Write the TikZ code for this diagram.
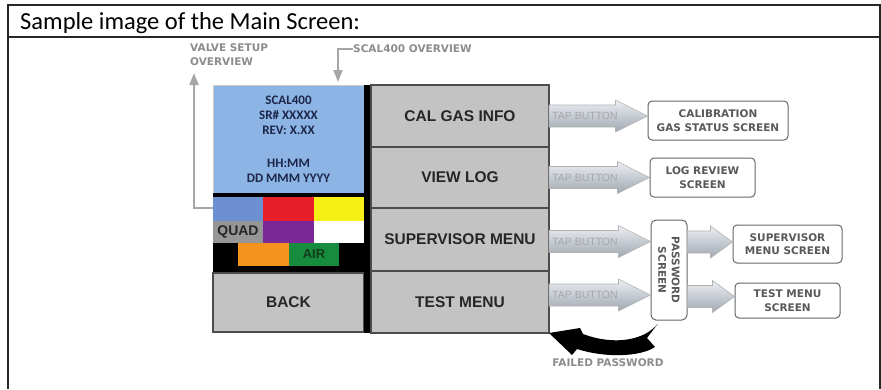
\documentclass[tikz,border=0pt]{standalone}
\usepackage{fontspec}
\setmainfont{Carlito}
\newfontfamily\keyfont{Liberation Sans}
\newfontfamily\notefont{DejaVu Sans}
\usetikzlibrary{arrows.meta,calc,positioning}

\definecolor{screenblue}{RGB}{140,180,228}
\definecolor{screentext}{RGB}{28,38,72}
\definecolor{keygray}{RGB}{195,195,195}
\definecolor{quadblue}{RGB}{108,144,210}
\definecolor{quadred}{RGB}{232,30,40}
\definecolor{quadyellow}{RGB}{246,240,22}
\definecolor{quadgray}{RGB}{150,150,150}
\definecolor{quadpurple}{RGB}{122,40,150}
\definecolor{quadorange}{RGB}{246,146,30}
\definecolor{quadgreen}{RGB}{24,140,62}
\definecolor{tapTop}{RGB}{236,239,243}
\definecolor{tapBottom}{RGB}{160,168,178}

\tikzset{
  key/.style={draw=black!70, line width=1.2pt, fill=keygray, outer sep=0pt,
    minimum width=178pt, text=black!85,
    font=\keyfont\bfseries\fontsize{15.5}{18}\selectfont},
  cellnote/.style={inner sep=0pt, outer sep=0pt,
    font=\keyfont\bfseries\fontsize{14}{16}\selectfont},
  notetext/.style={inner sep=0pt, text=black!45,
    font=\notefont\bfseries\fontsize{10.5}{14}\selectfont},
  taptext/.style={inner sep=0pt, text=black!35,
    font=\keyfont\fontsize{10.5}{12}\selectfont},
  tapshape/.style={draw=gray!60, line width=0.6pt,
    top color=tapTop, bottom color=tapBottom},
  screenbox/.style={draw=black!60, line width=1pt, fill=white,
    rounded corners=4pt, align=center, text=black!65,
    font=\notefont\bfseries\fontsize{10.5}{13.5}\selectfont},
  leader/.style={draw=gray!70, line width=1.8pt,
    -{Triangle[length=12pt,width=9pt]}}
}

% block arrow: from #1 to #2, at the height of #3, head length #4
\newcommand\tapflow[4]{%
  \path[tapshape] let \p1=(#1), \p2=(#2), \p3=(#3) in
    (\x1,\y3+11pt) -- (\x2-#4,\y3+11pt) -- (\x2-#4,\y3+16pt) -- (\x2,\y3)
    -- (\x2-#4,\y3-16pt) -- (\x2-#4,\y3-11pt) -- (\x1,\y3-11pt) -- cycle;}

\begin{document}
\begin{tikzpicture}[x=1pt,y=-1pt]
  \useasboundingbox (0,0) rectangle (881,389);

  % frame and title
  \draw[line width=2pt, black!85] (8,389) -- (8,5) -- (880,5) -- (880,389);
  \draw[line width=2pt, black!85] (8,37) -- (880,37);
  \node[anchor=base west, inner sep=0pt, font=\fontsize{24.5}{30}\selectfont]
    (title) at (20,29) {Sample image of the Main Screen:};

  % left column of the screen
  \node[fill=screenblue, draw=gray!40, line width=0.6pt, minimum width=151pt,
    minimum height=108pt, inner sep=0pt, align=center, text=screentext,
    font=\bfseries\fontsize{13}{15}\selectfont] (screen) at (288.5,139)
    {SCAL400\\SR\# XXXXX\\REV: X.XX\\[18pt]HH:MM\\DD MMM YYYY};

  \fill[black] (213,193) rectangle (364,273);
  \fill[quadblue] (213,197) rectangle (263,221);
  \fill[quadred] (263,197) rectangle (314,221);
  \fill[quadyellow] (314,197) rectangle (364,221);
  \node[cellnote, fill=quadgray, minimum width=50pt, minimum height=22pt,
    text=black!85] (quad) at (238,232) {QUAD};
  \fill[quadpurple] (263,221) rectangle (314,243);
  \fill[white] (314,221) rectangle (364,243);
  \fill[quadorange] (238,243) rectangle (289,266);
  \node[cellnote, fill=quadgreen, minimum width=50pt, minimum height=23pt,
    text={rgb,255:red,20;green,60;blue,28}, font=\keyfont\bfseries\fontsize{13}{15}\selectfont]
    (air) at (314,254.5) {AIR};

  \node[key, minimum width=151pt, minimum height=59pt] (back) at (288.5,302.5) {BACK};
  \fill[black] (364,85) rectangle (371,333);

  % right column of the screen
  \node[key, minimum height=62pt] (cal) at (460,116) {CAL GAS INFO};
  \node[key, minimum height=61pt] (viewlog) at (460,177.5) {VIEW LOG};
  \node[key, minimum height=63pt] (supmenu) at (460,239.5) {SUPERVISOR MENU};
  \node[key, minimum height=62pt] (testmenu) at (460,302) {TEST MENU};

  % target screens
  \node[screenbox, minimum width=140pt, minimum height=39pt] (calscreen)
    at (718,120.5) {CALIBRATION\\GAS STATUS SCREEN};
  \node[screenbox, minimum width=105pt, minimum height=39pt] (logscreen)
    at (702.5,177.5) {LOG REVIEW\\SCREEN};
  \node[screenbox, rotate=-90, minimum width=100pt, minimum height=36pt,
    rounded corners=5pt] (pwscreen) at (669,270) {PASSWORD\\SCREEN};
  \node[screenbox, minimum width=109pt, minimum height=38pt] (supscreen)
    at (787.5,244) {SUPERVISOR\\MENU SCREEN};
  \node[screenbox, minimum width=105pt, minimum height=35pt] (testscreen)
    at (787.5,300.5) {TEST MENU\\SCREEN};

  % tap arrows
  \tapflow{cal.east}{calscreen.west}{cal.center}{32pt}
  \tapflow{viewlog.east}{logscreen.west}{viewlog.center}{32pt}
  \tapflow{supmenu.east}{pwscreen.south}{$(supmenu.center)+(0,2)$}{32pt}
  \tapflow{testmenu.east}{pwscreen.south}{$(testmenu.center)+(0,-7)$}{32pt}
  \tapflow{pwscreen.north}{supscreen.west}{$(supscreen.center)+(0,-2)$}{22pt}
  \tapflow{pwscreen.north}{testscreen.west}{$(testscreen.center)+(0,-4)$}{22pt}

  \node[taptext, right=3pt of cal] (tapcal) {TAP BUTTON};
  \node[taptext, right=3pt of viewlog] (taplog) {TAP BUTTON};
  \node[taptext, right=3pt of supmenu, yshift=-2pt] (tapsup) {TAP BUTTON};
  \node[taptext, right=3pt of testmenu, yshift=7pt] (taptest) {TAP BUTTON};

  % failed password return
  \fill[black] ($(pwscreen.east)+(-11,3)$) .. controls (645,340) and (615,346) .. (583,334)
    -- (580,328) -- (testmenu.south east) -- (572,355) -- (577,349)
    .. controls (605,358) and (640,357) .. (655,347) -- (647,338) -- cycle;
  \node[notetext] (failnote) at (608,363) {FAILED PASSWORD};

  % overview pointers
  \node[notetext, align=left, anchor=west] (valvenote) at (190,55) {VALVE SETUP\\OVERVIEW};
  \node[notetext, anchor=west] (scalnote) at (353,49) {SCAL400 OVERVIEW};
  \coordinate (valvefoot) at (213,208);
  \coordinate (valvetip) at (194,73);
  \coordinate (scaltip) at (338,82);
  \draw[leader] (valvefoot) -| (valvetip);
  \draw[leader] (scalnote.west) -| (scaltip);
\end{tikzpicture}
\end{document}
